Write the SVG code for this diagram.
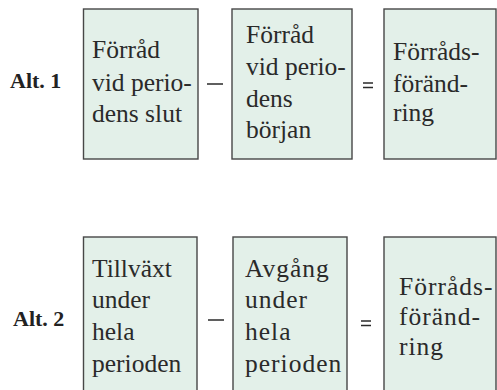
<svg xmlns="http://www.w3.org/2000/svg" width="497" height="390" viewBox="0 0 497 390">
<style>
.box{fill:#e3f0e9;stroke:#474747;stroke-width:1.4}
.t{font-family:"Liberation Serif","Times New Roman",serif;font-size:25.5px;fill:#2a2a2a}
.ts{letter-spacing:1px}
.lab{font-family:"Liberation Serif","Times New Roman",serif;font-size:22px;font-weight:bold;fill:#222}
.op{stroke:#2a2a2a;stroke-width:1.5;fill:none}
</style>
<rect width="497" height="390" fill="#ffffff"/>
<g id="alt1-label"><text class="lab" x="10" y="88">Alt. 1</text></g>
<g id="r1-box1">
<rect class="box" x="83.5" y="9" width="114.5" height="150"/>
<text class="t" x="92"><tspan x="92" y="58">Förråd</tspan><tspan x="92" y="91">vid perio-</tspan><tspan x="92" y="122">dens slut</tspan></text>
</g>
<g id="r1-box2">
<rect class="box" x="232" y="9" width="120" height="150"/>
<text class="t" x="246"><tspan x="246" y="43">Förråd</tspan><tspan x="246" y="75">vid perio-</tspan><tspan x="246" y="107">dens</tspan><tspan x="246" y="138">början</tspan></text>
</g>
<g id="r1-box3">
<rect class="box" x="384" y="9" width="112" height="150"/>
<text class="t" x="393"><tspan x="393" y="60">Förråds-</tspan><tspan x="393" y="92">föränd-</tspan><tspan x="393" y="121">ring</tspan></text>
</g>
<g id="alt2-label"><text class="lab" x="13" y="326">Alt. 2</text></g>
<g id="r2-box1">
<rect class="box" x="83.5" y="237" width="113.5" height="170"/>
<text class="t" x="92"><tspan x="92" y="277">Tillväxt</tspan><tspan x="92" y="308">under</tspan><tspan x="92" y="340">hela</tspan><tspan x="92" y="372">perioden</tspan></text>
</g>
<g id="r2-box2">
<rect class="box" x="233" y="237" width="114" height="170"/>
<text class="t ts" x="245"><tspan x="245" y="277">Avgång</tspan><tspan x="245" y="308">under</tspan><tspan x="245" y="340">hela</tspan><tspan x="245" y="372">perioden</tspan></text>
</g>
<g id="r2-box3">
<rect class="box" x="384" y="237" width="112" height="170"/>
<text class="t ts" x="399"><tspan x="399" y="295">Förråds-</tspan><tspan x="399" y="325">föränd-</tspan><tspan x="399" y="355">ring</tspan></text>
</g>
<g id="operators">
<line class="op" x1="207" y1="84" x2="223" y2="84"/>
<line class="op" x1="363" y1="83" x2="373" y2="83"/>
<line class="op" x1="363" y1="87.5" x2="373" y2="87.5"/>
<line class="op" x1="208" y1="320" x2="224" y2="320"/>
<line class="op" x1="361" y1="321" x2="371" y2="321"/>
<line class="op" x1="361" y1="325.5" x2="371" y2="325.5"/>
</g>
</svg>
